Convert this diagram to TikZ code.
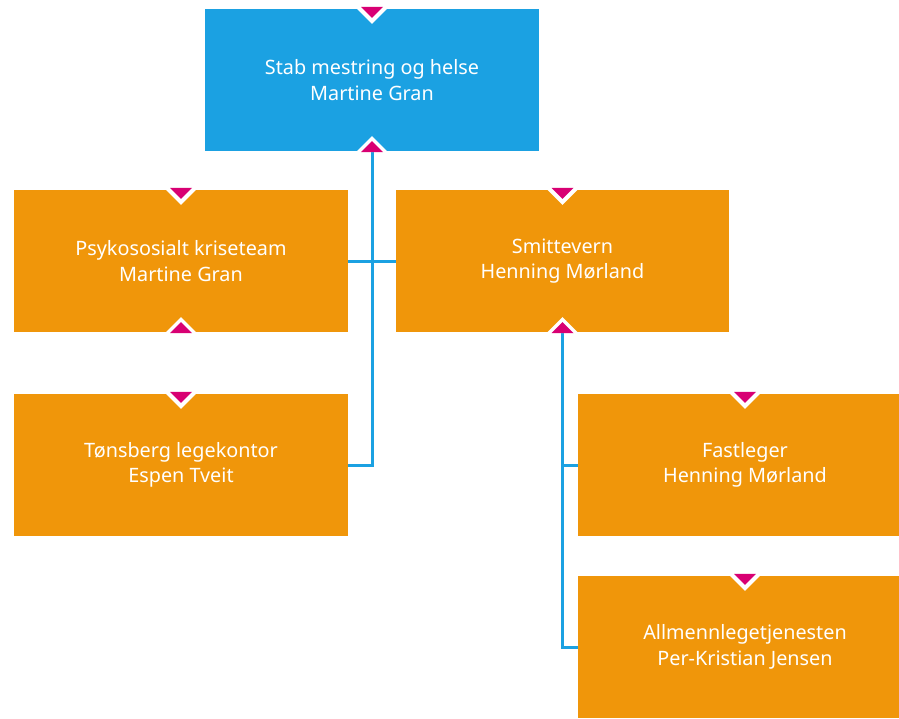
\documentclass[tikz,border=0pt]{standalone}
\usepackage{fontspec}
\setmainfont{Noto Sans}
\usetikzlibrary{calc}
\definecolor{bluec}{HTML}{1BA1E2}
\definecolor{orangec}{HTML}{F0960A}
\definecolor{pinkc}{HTML}{D80073}
\tikzset{
  box/.style={rectangle, minimum width=334pt, minimum height=142pt, inner sep=0pt,
    text=white, align=center, font=\fontsize{19.8}{25.5}\selectfont},
  bluebox/.style={box, fill=bluec},
  orangebox/.style={box, fill=orangec},
  conn/.style={draw=bluec, line width=3pt},
  topnotch/.pic={\fill[white] (-16,-1) -- (16,-1) -- (0,15) -- cycle;
                 \fill[pinkc] (-11,-2) -- (11,-2) -- (0,9) -- cycle;},
  botnotch/.pic={\fill[white] (-16,1) -- (16,1) -- (0,-15) -- cycle;
                 \fill[pinkc] (-11,1) -- (11,1) -- (0,-10) -- cycle;},
}
\begin{document}
\begin{tikzpicture}[x=1pt,y=-1pt]
\useasboundingbox (0,0) rectangle (899,718);
\clip (0,0) rectangle (899,718);
\node[bluebox] (top) at (372,80) {Stab mestring og helse\\Martine Gran};
\node[orangebox] (psyk) at (181,261) {Psykososialt kriseteam\\Martine Gran};
\node[orangebox, minimum width=333pt] (smitt) at (562.5,261) {Smittevern\\Henning Mørland};
\node[orangebox] (tons) at (181,465) {Tønsberg legekontor\\Espen Tveit};
\node[orangebox] (fast) at (745,465) {Fastleger\\Henning Mørland};
\node[orangebox] (allm) at (745,647) {Allmennlegetjenesten\\Per-Kristian Jensen};
\draw[conn] (top.south) -- (top.south |- tons.east) -- (tons.east);
\draw[conn] (psyk.east) -- (smitt.west);
\draw[conn] (smitt.south) -- (smitt.south |- allm.west) -- (allm.west);
\draw[conn] (smitt.south |- fast.west) -- (fast.west);
\foreach \n in {top,psyk,smitt,tons,fast,allm} {\pic at (\n.north) {topnotch};}
\foreach \n in {top,psyk,smitt} {\pic at (\n.south) {botnotch};}
\end{tikzpicture}
\end{document}
